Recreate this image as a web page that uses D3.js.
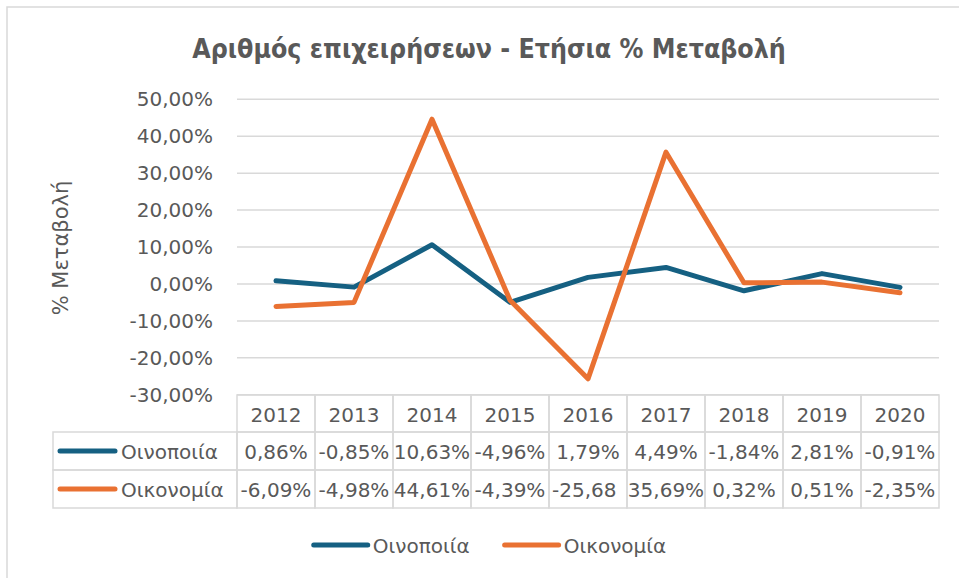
<!DOCTYPE html>
<html>
<head>
<meta charset="utf-8">
<script src="https://cdn.jsdelivr.net/npm/d3@7"></script>
<style>
    body { margin: 0; background: #fff; }
    svg text { font-family: "DejaVu Sans", sans-serif; fill: #595959; }
</style>
</head>
<body>
<svg id="chart" width="959" height="578"></svg>
<script>
// data
const years = ["2012", "2013", "2014", "2015", "2016", "2017", "2018", "2019", "2020"];
const wine = [0.86, -0.85, 10.63, -4.96, 1.79, 4.49, -1.84, 2.81, -0.91];        // Οινοποιία
const economy = [-6.09, -4.98, 44.61, -4.39, -25.68, 35.69, 0.32, 0.51, -2.35];  // Οικονομία
const seriesNames = ["Οινοποιία", "Οικονομία"];
const seriesColors = ["#156082", "#E97132"];
const yTicks = [-30, -20, -10, 0, 10, 20, 30, 40, 50];

const svg = d3.select("#chart");

// outer chart frame
svg.append("rect")
    .attr("x", 7).attr("y", 7)
    .attr("width", 980).attr("height", 600)
    .attr("fill", "#fff")
    .attr("stroke", "#D9D9D9")
    .attr("stroke-width", 1.5);

const plot = { left: 237, right: 939, top: 99.3, bottom: 394.8 };

const x = d3.scaleBand()
    .domain(years)
    .range([plot.left, plot.right]);

const y = d3.scaleLinear()
    .domain([-30, 50])
    .range([plot.bottom, plot.top]);

// Greek style: comma decimal, plain hyphen for minus
const pct = v => d3.format(".2f")(v).replace("−", "-").replace(".", ",") + "%";

// title
svg.append("text")
    .attr("x", 489).attr("y", 58)
    .attr("text-anchor", "middle")
    .style("font-family", "'DejaVu Sans Condensed', 'DejaVu Sans', sans-serif")
    .style("font-weight", "bold")
    .style("font-size", "26.5px")
    .text("Αριθμός επιχειρήσεων - Ετήσια % Μεταβολή");

// y axis title
svg.append("text")
    .attr("transform", "translate(68,248)rotate(-90)")
    .attr("text-anchor", "middle")
    .style("font-size", "21px")
    .text("% Μεταβολή");

// gridlines
svg.append("g")
    .selectAll("line")
    .data(yTicks)
    .enter()
    .append("line")
    .attr("x1", plot.left).attr("x2", plot.right)
    .attr("y1", d => y(d)).attr("y2", d => y(d))
    .attr("stroke", "#D9D9D9")
    .attr("stroke-width", 1.5);

// y axis labels
const yAxis = svg.append("g")
    .attr("transform", "translate(" + plot.left + ",0)")
    .call(d3.axisLeft(y).tickValues(yTicks).tickSize(0).tickPadding(24).tickFormat(pct));
yAxis.select(".domain").remove();
yAxis.selectAll("text")
    .style("font-size", "20px")
    .style("font-family", "'DejaVu Sans', sans-serif")
    .attr("fill", "#595959");

// lines
const line = d3.line()
    .x((d, i) => x(years[i]) + x.bandwidth() / 2)
    .y(d => y(d));

[wine, economy].forEach((values, k) => {
    svg.append("path")
        .datum(values)
        .attr("d", line)
        .attr("fill", "none")
        .attr("stroke", seriesColors[k])
        .attr("stroke-width", 5)
        .attr("stroke-linejoin", "round")
        .attr("stroke-linecap", "round");
});

// data table
const table = svg.append("g");
const rowTop = [395, 432, 470, 508];
const legendLeft = 53;
const cellStroke = "#D9D9D9";

// header row
years.forEach(yr => {
    table.append("rect")
        .attr("x", x(yr)).attr("y", rowTop[0])
        .attr("width", x.bandwidth()).attr("height", rowTop[1] - rowTop[0])
        .attr("fill", "none").attr("stroke", cellStroke).attr("stroke-width", 1.5);
    table.append("text")
        .attr("x", x(yr) + x.bandwidth() / 2)
        .attr("y", (rowTop[0] + rowTop[1]) / 2 + 1)
        .attr("text-anchor", "middle")
        .attr("dominant-baseline", "central")
        .style("font-size", "20px")
        .text(yr);
});

[wine, economy].forEach((values, k) => {
    const top = rowTop[k + 1], bot = rowTop[k + 2];
    const mid = (top + bot) / 2 + 1;

    table.append("rect")
        .attr("x", legendLeft).attr("y", top)
        .attr("width", plot.left - legendLeft).attr("height", bot - top)
        .attr("fill", "none").attr("stroke", cellStroke).attr("stroke-width", 1.5);
    table.append("line")
        .attr("x1", 60).attr("x2", 115)
        .attr("y1", mid - 1).attr("y2", mid - 1)
        .attr("stroke", seriesColors[k])
        .attr("stroke-width", 5)
        .attr("stroke-linecap", "round");
    table.append("text")
        .attr("x", 121).attr("y", mid)
        .attr("dominant-baseline", "central")
        .style("font-size", "20px")
        .text(seriesNames[k]);

    values.forEach((v, i) => {
        const cx = x(years[i]);
        table.append("rect")
            .attr("x", cx).attr("y", top)
            .attr("width", x.bandwidth()).attr("height", bot - top)
            .attr("fill", "none").attr("stroke", cellStroke).attr("stroke-width", 1.5);

        const t = table.append("text")
            .attr("x", cx + x.bandwidth() / 2)
            .attr("y", mid)
            .attr("text-anchor", "middle")
            .attr("dominant-baseline", "central")
            .style("font-size", "20px")
            .text(pct(v));
        // too wide for the cell: cut from the right and start at the left edge, like the original
        let s = pct(v);
        if (t.node().getComputedTextLength() > x.bandwidth() + 1) {
            t.attr("x", cx + 3).attr("text-anchor", "start");
            while (s.length > 1 && t.node().getComputedTextLength() > x.bandwidth() - 5) {
                s = s.slice(0, -1);
                t.text(s);
            }
        }
    });
});

// legend below the table
const legend = svg.append("g");
const items = [];
seriesNames.forEach((name, k) => {
    const g = legend.append("g");
    g.append("line")
        .attr("x1", 0).attr("x2", 54)
        .attr("y1", 0).attr("y2", 0)
        .attr("stroke", seriesColors[k])
        .attr("stroke-width", 5)
        .attr("stroke-linecap", "round");
    const t = g.append("text")
        .attr("x", 59).attr("y", 1)
        .attr("dominant-baseline", "central")
        .style("font-size", "20px")
        .text(name);
    items.push({ g: g, w: 59 + t.node().getComputedTextLength() });
});
const gap = 35;
const totalW = d3.sum(items, d => d.w) + gap * (items.length - 1);
let lx = 490 - totalW / 2;
items.forEach(it => {
    it.g.attr("transform", "translate(" + lx + ",545)");
    lx += it.w + gap;
});
</script>
</body>
</html>
